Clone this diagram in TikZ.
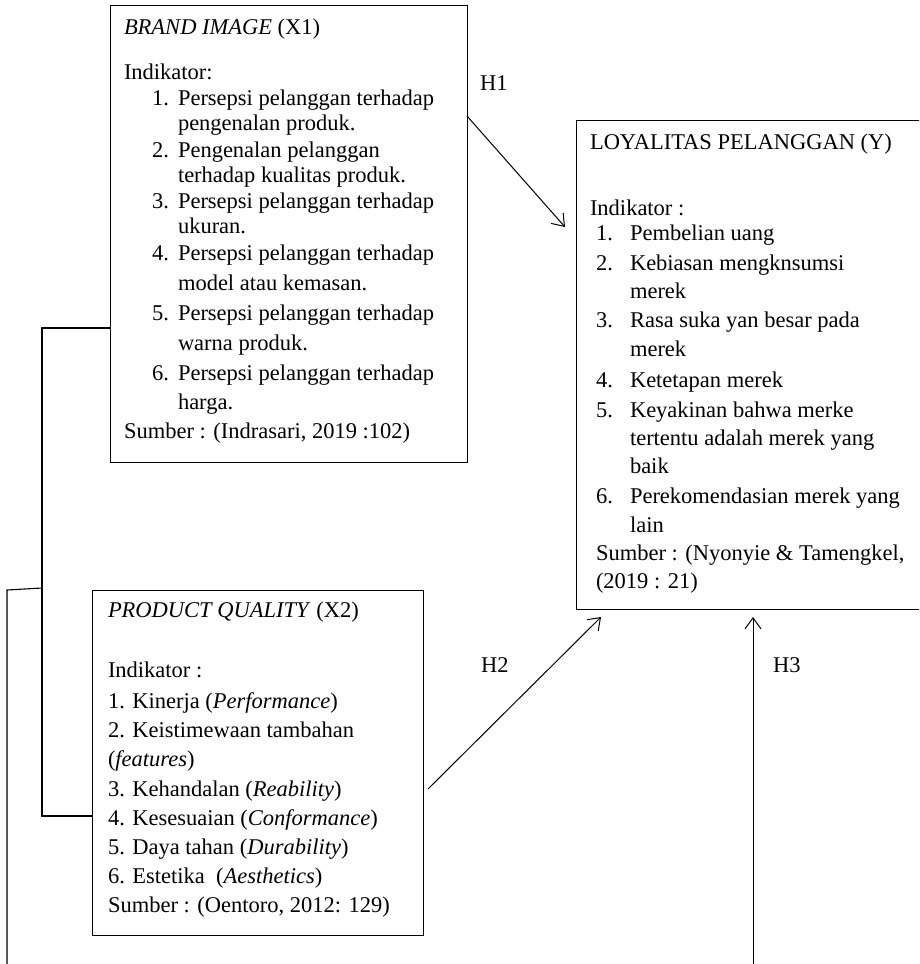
\documentclass[tikz,border=0pt]{standalone}
\usepackage{fontspec}
\setmainfont{Liberation Serif}
\usetikzlibrary{arrows.meta}
\newcommand{\ltext}[4]{\node[txt] (#1) at (#2,#3) {#4};}
\begin{document}
\begin{tikzpicture}[x=1pt,y=-1pt,
  txt/.style={anchor=base west,inner sep=0pt,outer sep=0pt,font=\fontsize{22.5pt}{27pt}\selectfont},
  box/.style={draw,line width=1pt,anchor=north west,inner sep=0pt,outer sep=0pt},
  wire/.style={line width=1.1pt},
  arr/.style={line width=1pt,-{Straight Barb[length=11pt,width=16pt,line width=1pt]}},
  lab/.style={anchor=base west,inner sep=0pt,font=\fontsize{22.5pt}{27pt}\selectfont}]
\useasboundingbox (0,0) rectangle (919,964);
\clip (0,0) rectangle (919,964);

% boxes
\node[box,minimum width=357pt,minimum height=457pt] (X1) at (110,5) {};
\node[box,minimum width=360pt,minimum height=489pt] (Y) at (576,120) {};
\node[box,minimum width=331pt,minimum height=345pt] (X2) at (92,590) {};

% X1 text
\ltext{a0}{124}{34}{\textit{BRAND IMAGE} (X1)}
\ltext{a1}{124}{79}{Indikator:}
\ltext{a2n}{152}{105}{1.}
\ltext{a2}{178}{105}{Persepsi pelanggan terhadap}
\ltext{a3}{178}{130}{pengenalan produk.}
\ltext{a4n}{152}{157}{2.}
\ltext{a4}{178}{157}{Pengenalan pelanggan}
\ltext{a5}{178}{182}{terhadap kualitas produk.}
\ltext{a6n}{152}{208}{3.}
\ltext{a6}{178}{208}{Persepsi pelanggan terhadap}
\ltext{a7}{178}{233}{ukuran.}
\ltext{a8n}{152}{260}{4.}
\ltext{a8}{178}{260}{Persepsi pelanggan terhadap}
\ltext{a9}{178}{290}{model atau kemasan.}
\ltext{a10n}{152}{320}{5.}
\ltext{a10}{178}{320}{Persepsi pelanggan terhadap}
\ltext{a11}{178}{350}{warna produk.}
\ltext{a12n}{152}{380}{6.}
\ltext{a12}{178}{380}{Persepsi pelanggan terhadap}
\ltext{a13}{178}{409}{harga.}
\ltext{a14}{124}{438}{Sumber : (Indrasari, 2019 :102)}

% Y text
\ltext{y0}{590}{149}{LOYALITAS PELANGGAN (Y)}
\ltext{y1}{590}{215}{Indikator :}
\ltext{y2n}{596}{240}{1.}
\ltext{y2}{630}{240}{Pembelian uang}
\ltext{y3n}{596}{270}{2.}
\ltext{y3}{630}{270}{Kebiasan mengknsumsi}
\ltext{y4}{630}{298}{merek}
\ltext{y5n}{596}{327}{3.}
\ltext{y5}{630}{327}{Rasa suka yan besar pada}
\ltext{y6}{630}{356}{merek}
\ltext{y7n}{596}{387}{4.}
\ltext{y7}{630}{387}{Ketetapan merek}
\ltext{y8n}{596}{417}{5.}
\ltext{y8}{630}{417}{Keyakinan bahwa merke}
\ltext{y9}{630}{445}{tertentu adalah merek yang}
\ltext{y10}{630}{473}{baik}
\ltext{y11n}{596}{503}{6.}
\ltext{y11}{630}{503}{Perekomendasian merek yang}
\ltext{y12}{630}{532}{lain}
\ltext{y13}{596}{560}{Sumber : (Nyonyie \& Tamengkel,}
\ltext{y14}{596}{588}{(2019 : 21)}

% X2 text
\ltext{b0}{108}{617}{\textit{PRODUCT QUALITY} (X2)}
\ltext{b1}{108}{677}{Indikator :}
\ltext{b2}{108}{708}{1. Kinerja (\textit{Performance})}
\ltext{b3}{108}{737}{2. Keistimewaan tambahan}
\ltext{b4}{108}{766}{(\textit{features})}
\ltext{b5}{108}{796}{3. Kehandalan (\textit{Reability})}
\ltext{b6}{108}{825}{4. Kesesuaian (\textit{Conformance})}
\ltext{b7}{108}{854}{5. Daya tahan (\textit{Durability})}
\ltext{b8}{108}{883}{6. Estetika\ \ (\textit{Aesthetics})}
\ltext{b9}{108}{912}{Sumber : (Oentoro, 2012: 129)}

% left bracket connectors
\coordinate (j1) at (41,328);
\coordinate (j2) at (42,816);
\coordinate (j3) at (42,588);
\coordinate (j4) at (7,590);
\coordinate (j5) at (7,970);
\draw[wire] (j1) -- (j1 -| X1.west);
\draw[wire] (42,328) -- (j2) -- (j2 -| X2.west);
\draw[wire] (j3) -- (j4) -- (j5);

% hypothesis arrows
\coordinate (h1s) at (X1.east |- 0,116);
\coordinate (h1e) at (565,227);
\draw[arr] (h1s) -- (h1e);
\coordinate (h2s) at (428,789);
\coordinate (h2e) at (601,617);
\draw[arr] (h2s) -- (h2e);
\coordinate (h3s) at (753,970);
\coordinate (h3e) at (753,617);
\draw[arr] (h3s) -- (h3e);

\node[lab] (H1) at (480,90) {H1};
\node[lab] (H2) at (481,672) {H2};
\node[lab] (H3) at (773,672) {H3};
\end{tikzpicture}
\end{document}
